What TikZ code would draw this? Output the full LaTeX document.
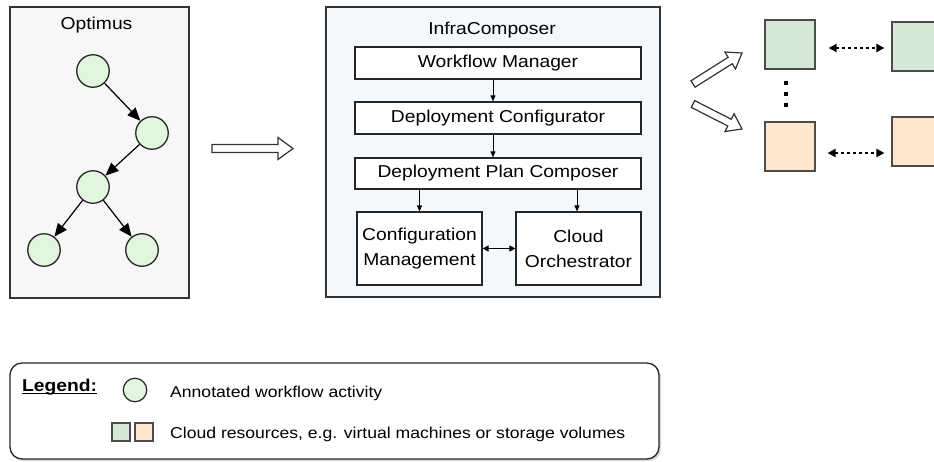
\documentclass[tikz,border=0pt]{standalone}
\usepackage{fontspec}
\setmainfont{Liberation Sans}[FakeStretch=1.12]
\usetikzlibrary{arrows.meta,shadows}
\definecolor{optfill}{HTML}{F7F7F7}
\definecolor{infrafill}{HTML}{F3F8FC}
\definecolor{actfill}{HTML}{E2F5DE}
\definecolor{resgreen}{HTML}{D5E8D4}
\definecolor{resorange}{HTML}{FFE6CC}
\definecolor{edgegray}{HTML}{333333}
\begin{document}
\begin{tikzpicture}[x=1pt,y=-1pt,
  boxfont/.style={font=\fontsize{17.2}{25}\selectfont},
  container/.style={draw=edgegray, line width=1.4pt, inner sep=0pt},
  titletext/.style={boxfont, inner sep=0pt, anchor=base},
  activity/.style={circle, draw=black!85, line width=1.3pt, fill=actfill, minimum size=32.5pt, inner sep=0pt},
  comp/.style={draw=black!85, line width=1.2pt, fill=white, boxfont, inner sep=0pt, align=center},
  flowedge/.style={line width=1.2pt, -{Triangle[length=13pt,width=11pt]}},
  compedge/.style={line width=1pt, -{Triangle[length=6pt,width=5pt]}},
  hollowline/.style={draw=black!80, fill=white, line width=1.2pt, line join=miter},
  resource/.style={draw=black!70, line width=1.2pt, minimum width=50pt, minimum height=49pt, inner sep=0pt},
  dotlink/.style={line width=2.6pt, dash pattern=on 2.6pt off 3.4pt, {Triangle[length=8pt,width=8pt]}-{Triangle[length=8pt,width=8pt]}},
  legtext/.style={font=\fontsize{15.7}{18}\selectfont, inner sep=0pt, anchor=base west}
]
\useasboundingbox (0,0) rectangle (934,461);
\clip (0,0) rectangle (934,461);
\fill[white] (0,0) rectangle (934,461);

% Optimus
\node[container, fill=optfill, minimum width=179pt, minimum height=291pt] (optimus) at (99.5,152.5) {};
\node[titletext] (optimustitle) at (96.5,29.5) {Optimus};
\node[activity] (c1) at (93,71) {};
\node[activity] (c2) at (152,133) {};
\node[activity] (c3) at (93,187) {};
\node[activity] (c4) at (44,250) {};
\node[activity] (c5) at (142,250) {};
\draw[flowedge] (c1) -- (c2);
\draw[flowedge] (c2) -- (c3);
\draw[flowedge] (c3) -- (c4);
\draw[flowedge] (c3) -- (c5);

% main hollow arrow (tail at 212,148.5)
\begin{scope}[shift={(212,148.5)}]
  \draw[hollowline] (0,-4) -- (66,-4) -- (66,-11) -- (81,0) -- (66,11) -- (66,4) -- (0,4) -- cycle;
\end{scope}

% InfraComposer
\node[container, fill=infrafill, minimum width=334pt, minimum height=290pt] (infra) at (493,152) {};
\node[titletext] (infratitle) at (492,34) {InfraComposer};
\node[comp, minimum width=286pt, minimum height=32pt] (wm) at (498,63) {Workflow Manager};
\node[comp, minimum width=286pt, minimum height=32pt] (dc) at (498,118) {Deployment Configurator};
\node[comp, minimum width=286pt, minimum height=31pt] (dpc) at (498,173.5) {Deployment Plan Composer};
\node[comp, minimum width=125pt, minimum height=73pt] (cm) at (419.5,248.5) {Configuration\\Management};
\node[comp, minimum width=125pt, minimum height=73pt] (co) at (578.5,248.5) {Cloud\\Orchestrator};
\draw[compedge] ([xshift=-5pt]wm.south) -- ([xshift=-5pt]dc.north);
\draw[compedge] ([xshift=-5pt]dc.south) -- ([xshift=-5pt]dpc.north);
\draw[compedge] (cm.north |- dpc.south) -- (cm.north);
\draw[compedge] ([xshift=-1.5pt]co.north |- dpc.south) -- ([xshift=-1.5pt]co.north);
\draw[line width=1pt, {Triangle[length=6pt,width=6pt]}-{Triangle[length=6pt,width=6pt]}] (cm.east) -- (co.west);

% output hollow arrows
\begin{scope}[shift={(693,84)}, rotate=32.3]
  \draw[hollowline] (0,-3.8) -- (44,-3.8) -- (44,-10) -- (58,0) -- (44,10) -- (44,3.8) -- (0,3.8) -- cycle;
\end{scope}
\begin{scope}[shift={(693,104)}, rotate=-27]
  \draw[hollowline] (0,-3.8) -- (41,-3.8) -- (41,-10) -- (55,0) -- (41,10) -- (41,3.8) -- (0,3.8) -- cycle;
\end{scope}

\node[resource, fill=resgreen] (g1) at (790,44.5) {};
\node[resource, fill=resgreen] (g2) at (917,46.5) {};
\node[resource, fill=resorange] (o1) at (790,146.5) {};
\node[resource, fill=resorange] (o2) at (917,141.5) {};
\draw[dotlink] ([xshift=13pt,yshift=-3.5pt]g1.east) -- ([xshift=-7pt,yshift=-1.5pt]g2.west);
\draw[dotlink] ([xshift=12pt,yshift=-6.5pt]o1.east) -- ([xshift=-7pt,yshift=-11.5pt]o2.west);
\fill (784,81) rectangle (788,85);
\fill (784,92) rectangle (788,96);
\fill (784,103) rectangle (788,107);

% legend
\node[draw=black!85, fill=white, line width=1.3pt, rounded corners=12pt, minimum width=649pt, minimum height=96pt, inner sep=0pt,
      drop shadow={opacity=0.3, shadow xshift=2pt, shadow yshift=-2pt}] (legend) at (334.5,411) {};
\node[font=\bfseries\fontsize{17.2}{20}\selectfont, inner sep=0pt, anchor=base west] (legendlabel) at (22,391) {Legend:};
\draw[line width=1.5pt] ([yshift=-2.5pt]legendlabel.base west) -- ([yshift=-2.5pt]legendlabel.base east);
\node[activity, minimum size=23.5pt, line width=1.2pt] (legcircle) at (135,390) {};
\node[legtext] (legact) at (170,397) {Annotated workflow activity};
\node[resource, fill=resgreen, minimum width=18pt, minimum height=18pt] (leggreen) at (121,432) {};
\node[resource, fill=resorange, minimum width=18pt, minimum height=18pt] (legorange) at (144,432) {};
\node[legtext] (legres) at (170,438) {Cloud resources, e.g. virtual machines or storage volumes};
\end{tikzpicture}
\end{document}
